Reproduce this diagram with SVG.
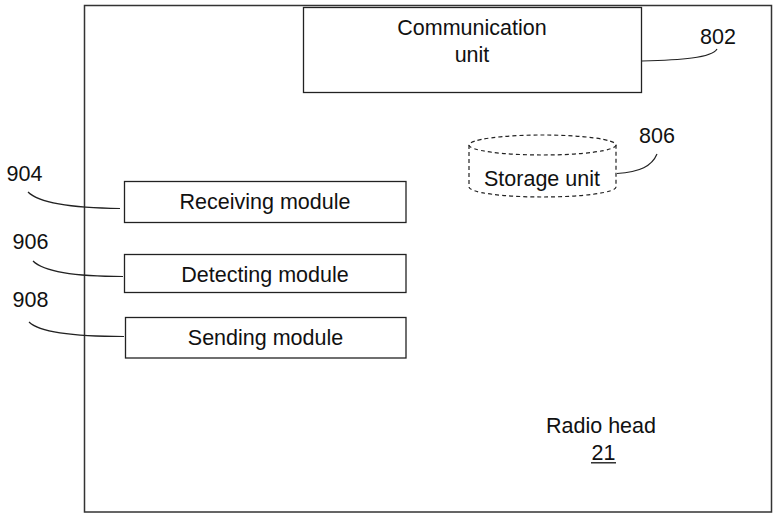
<svg xmlns="http://www.w3.org/2000/svg" width="773" height="514" viewBox="0 0 773 514">
<style>
.box{fill:#fff;stroke:#222;stroke-width:1.3}
.t{font-family:"Liberation Sans",Arial,sans-serif;font-size:21.5px;fill:#111;text-anchor:middle}
.lbl{font-family:"Liberation Sans",Arial,sans-serif;font-size:21.5px;fill:#111}
.lead{fill:none;stroke:#222;stroke-width:1.2}
.dash{fill:#fff;stroke:#222;stroke-width:1.2;stroke-dasharray:4 3}
</style>
<rect width="773" height="514" fill="#fff"/>
<g id="radio-head">
<rect x="84.5" y="5.5" width="687" height="506.5" fill="#fff" stroke="#333" stroke-width="1.5"/>
<text class="t" x="601" y="433">Radio head</text>
<text class="t" x="603.5" y="459.5">21</text>
<line x1="591" y1="462.8" x2="616" y2="462.8" stroke="#111" stroke-width="1.3"/>
</g>
<g id="communication-unit">
<rect class="box" x="303.5" y="7.5" width="338" height="85"/>
<text class="t" x="472" y="35">Communication</text>
<text class="t" x="472" y="62">unit</text>
</g>
<g id="storage-unit">
<path class="dash" d="M469,145 L469,187 A73.5,10 0 0 0 616,187 L616,145"/>
<ellipse class="dash" cx="542.5" cy="145" rx="73.5" ry="10"/>
<text class="t" x="542" y="185.5">Storage unit</text>
</g>
<g id="receiving-module">
<rect class="box" x="124.5" y="181.5" width="281.5" height="41"/>
<text class="t" x="265" y="209">Receiving module</text>
</g>
<g id="detecting-module">
<rect class="box" x="124.5" y="254.5" width="281.5" height="38"/>
<text class="t" x="265" y="281.5">Detecting module</text>
</g>
<g id="sending-module">
<rect class="box" x="125.5" y="317.5" width="280.5" height="40.5"/>
<text class="t" x="265.5" y="345">Sending module</text>
</g>
<g id="connectors">
<path class="lead" d="M717,49 C712,58 680,60 642,61"/>
<path class="lead" d="M657,154 C652,166 640,172 617,173.5"/>
<path class="lead" d="M28,192 C40,204 80,208 120,208.5"/>
<path class="lead" d="M33,261 C45,273 85,276.5 123,276.5"/>
<path class="lead" d="M29,322 C41,334 85,336.5 124,336.5"/>
</g>
<g id="labels">
<text class="lbl" x="700" y="43.5">802</text>
<text class="lbl" x="639" y="143">806</text>
<text class="lbl" x="6.5" y="180.5">904</text>
<text class="lbl" x="12.5" y="249">906</text>
<text class="lbl" x="12.5" y="306.5">908</text>
</g>
</svg>
